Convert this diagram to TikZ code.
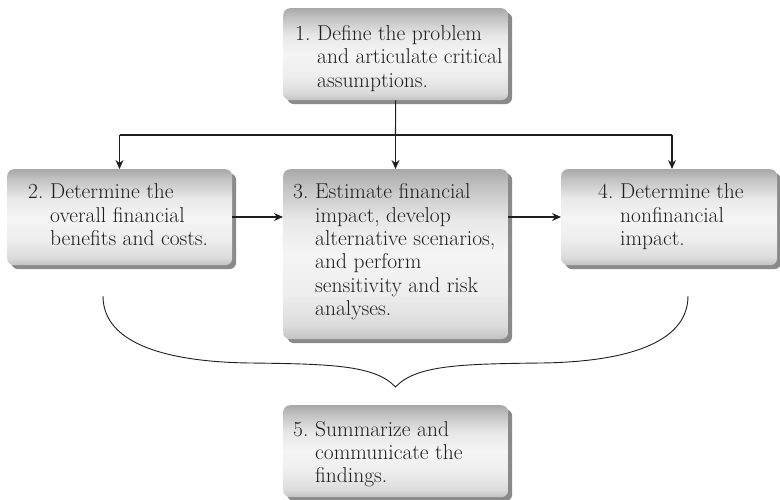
\documentclass[tikz,border=0pt]{standalone}
\usetikzlibrary{arrows.meta,shadows}
% light body, darker bands at the top and bottom edge (path spans 25bp..75bp)
\pgfdeclareverticalshading{boxshade}{100bp}{%
  color(0bp)=(black!24); color(25bp)=(black!24); color(29bp)=(black!14);
  color(38bp)=(black!7); color(50bp)=(black!4); color(60bp)=(black!9);
  color(70bp)=(black!24); color(75bp)=(black!34); color(100bp)=(black!34)}
\newcommand\numstep[2]{\begin{tabular}[t]{@{}l@{}l@{}}\makebox[22pt][l]{#1}&#2\end{tabular}}
\begin{document}
\begin{tikzpicture}[x=1pt,y=-1pt,
  stepbox/.style={rounded corners=7pt, inner sep=0pt, anchor=north west,
    shading=boxshade,
    drop shadow={shadow xshift=4pt, shadow yshift=-4pt, fill=black!46, opacity=1}},
  steptext/.style={anchor=base west, inner sep=0pt, text=black!88,
    font=\fontsize{21.5}{23.3}\selectfont},
  link/.style={draw=black!88, line width=1.1pt},
  arr/.style={link, -{Stealth[length=9pt,width=8pt]}}]
\useasboundingbox (0,0) rectangle (780,500);

% boxes
\node[stepbox, minimum width=225pt, minimum height=92pt]  (b1) at (283,8)   {};
\node[stepbox, minimum width=225pt, minimum height=96pt]  (b2) at (7,169)   {};
\node[stepbox, minimum width=225pt, minimum height=170pt] (b3) at (283,169) {};
\node[stepbox, minimum width=216pt, minimum height=96pt]  (b4) at (561,169) {};
\node[stepbox, minimum width=225pt, minimum height=92pt]  (b5) at (283,405) {};

% texts
\node[steptext] (t1) at (295,40.5) {\numstep{1.}{Define the problem\\&and articulate critical\\&assumptions.}};
\node[steptext] (t2) at (28,199)   {\numstep{2.}{Determine the\\&overall financial\\&benefits and costs.}};
\node[steptext] (t3) at (293,199)  {\numstep{3.}{Estimate financial\\&impact, develop\\&alternative scenarios,\\&and perform\\&sensitivity and risk\\&analyses.}};
\node[steptext] (t4) at (598,199)  {\numstep{4.}{Determine the\\&nonfinancial\\&impact.}};
\node[steptext] (t5) at (293,436)  {\numstep{5.}{Summarize and\\&communicate the\\&findings.}};

% distribution line below step 1
\coordinate (jm) at (395.5,135);
\coordinate (jl) at (119.5,135);
\coordinate (jr) at (672,135);
\draw[link] (b1.south) -- (jm);
\draw[link] (jl) -- (jr);
\draw[arr] (jl) -- (jl |- b2.north);
\draw[arr] (jm) -- (jm |- b3.north);
\draw[arr] (jr) -- (jr |- b4.north);

% flow from step 2 to 3 to 4
\draw[arr] (b2.east |- 0,217) -- (b3.west |- 0,217);
\draw[arr] (b3.east |- 0,217) -- (b4.west |- 0,217);

% brace gathering steps 2-4 into step 5
\coordinate (tip) at (395.5,387);
\draw[draw=black!88, line width=0.9pt]
  (103,296) .. controls (103,345) and (170,362) .. (250,363)
  .. controls (330,364) and (375,365) .. (tip)
  .. controls (416,365) and (461,364) .. (541,363)
  .. controls (621,362) and (688,345) .. (688,296);
\end{tikzpicture}
\end{document}
